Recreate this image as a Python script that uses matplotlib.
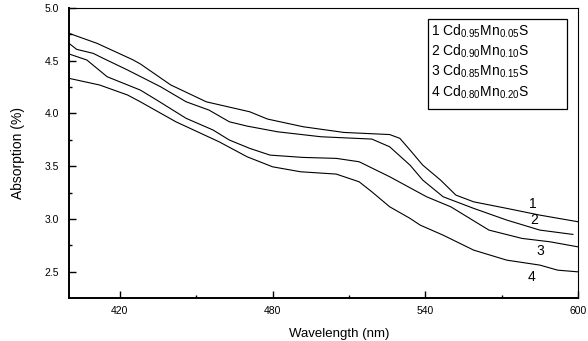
import matplotlib
matplotlib.use("Agg")
import matplotlib.pyplot as plt
from matplotlib.patches import Rectangle

plt.rcParams['font.family'] = ['Liberation Sans', 'DejaVu Sans']
plt.rcParams['mathtext.default'] = 'regular'

# Curve data (wavelength in nm, absorption in %)
wl_1 = [400, 411, 425, 428, 440, 454, 471, 478, 492, 508, 526, 530, 534, 539, 546, 552, 559, 572, 585, 600]
ab_1 = [4.76, 4.665, 4.51, 4.47, 4.27, 4.11, 4.016, 3.947, 3.874, 3.82, 3.80, 3.764, 3.653, 3.51, 3.368, 3.226, 3.162, 3.10, 3.036, 2.973]

wl_2 = [400, 403, 409.5, 413, 423, 436, 446, 455, 463, 470, 482, 499, 519, 526, 534, 539, 547, 559, 572, 585, 598]
ab_2 = [4.665, 4.608, 4.57, 4.528, 4.412, 4.253, 4.111, 4.032, 3.921, 3.88, 3.826, 3.779, 3.757, 3.684, 3.51, 3.368, 3.21, 3.10, 2.989, 2.894, 2.853]

wl_3 = [400, 407, 415, 428, 434.5, 446, 456.6, 463, 471, 479, 492, 505, 514, 526, 540.5, 550, 565, 578, 589, 600]
ab_3 = [4.564, 4.507, 4.348, 4.222, 4.127, 3.954, 3.843, 3.748, 3.669, 3.605, 3.583, 3.574, 3.542, 3.40, 3.21, 3.115, 2.894, 2.815, 2.783, 2.735]

wl_4 = [400, 412, 423, 428, 442, 459, 470, 480, 491, 505, 514, 519, 526, 534, 538, 547, 559, 572, 585, 592, 600]
ab_4 = [4.333, 4.27, 4.175, 4.111, 3.921, 3.731, 3.589, 3.494, 3.447, 3.425, 3.352, 3.257, 3.115, 3.005, 2.941, 2.846, 2.704, 2.609, 2.562, 2.514, 2.498]

curve_labels = ["1", "2", "3", "4"]
label_x = [582.2, 582.7, 585.1, 581.8]
label_y = [3.146, 2.99, 2.70, 2.45]

legend_entries = [r"1 Cd$_{0.95}$Mn$_{0.05}$S",
                  r"2 Cd$_{0.90}$Mn$_{0.10}$S",
                  r"3 Cd$_{0.85}$Mn$_{0.15}$S",
                  r"4 Cd$_{0.80}$Mn$_{0.20}$S"]

x_ticks = [420, 480, 540, 600]
y_ticks = [2.5, 3.0, 3.5, 4.0, 4.5, 5.0]

fig = plt.figure(figsize=(5.88, 3.41), dpi=100)
ax = fig.add_axes([69/588, 1-298/341, (578-69)/588, (298-8)/341])

for wl, ab in [(wl_1, ab_1), (wl_2, ab_2), (wl_3, ab_3), (wl_4, ab_4)]:
    ax.plot(wl, ab, color='black', lw=0.8)

for lab, lx, ly in zip(curve_labels, label_x, label_y):
    ax.text(lx, ly, lab, fontsize=10, ha='center', va='center')

ax.set_xlim(400, 600)
ax.set_ylim(2.25, 5.0)
ax.set_xticks(x_ticks)
ax.set_xticklabels([str(t) for t in x_ticks])
ax.set_yticks(y_ticks)
ax.set_yticklabels([f"{t:.1f}" for t in y_ticks])
ax.set_xticks([410, 450, 510, 570], minor=True)
ax.set_xticks([450, 510, 570], minor=True)
ax.set_yticks([2.75, 3.25, 3.75, 4.25, 4.75], minor=True)
ax.tick_params(axis='both', which='major', direction='in', length=5, width=1.0,
               labelsize=7.5, top=False, right=False)
ax.tick_params(axis='x', which='major', pad=6)
ax.tick_params(axis='y', which='major', pad=7)
ax.tick_params(axis='both', which='minor', direction='in', length=2.5, width=1.0,
               top=False, right=False)

ax.spines['left'].set_linewidth(1.4)
ax.spines['bottom'].set_linewidth(1.4)
ax.spines['top'].set_linewidth(0.8)
ax.spines['right'].set_linewidth(0.8)

ax.set_xlabel("Wavelength (nm)", fontsize=9.5, labelpad=6)
ax.xaxis.set_label_coords(0.53, -0.105)
ax.set_ylabel("Absorption (%)", fontsize=10, labelpad=14)

# legend box
bx0, bx1 = (427.7-69)/509, (567.3-69)/509
by0, by1 = 1-(109-8)/290, 1-(19.3-8)/290
ax.add_patch(Rectangle((bx0, by0), bx1-bx0, by1-by0, transform=ax.transAxes,
                       fill=False, edgecolor='black', lw=0.9))
row_y = [0.918, 0.849, 0.780, 0.711]
for txt, ry in zip(legend_entries, row_y):
    ax.text(0.712, ry, txt, transform=ax.transAxes, fontsize=10, ha='left', va='center')

fig.savefig("out.png", dpi=100)
